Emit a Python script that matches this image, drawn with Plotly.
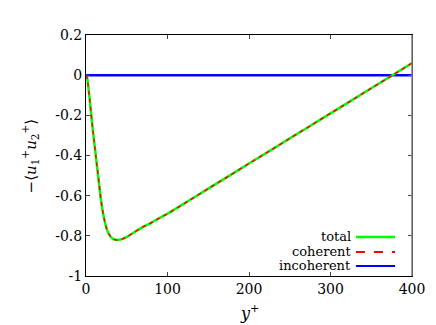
import plotly.graph_objects as go

y_plus = [0, 1, 2, 4, 6, 8, 10, 12, 14, 16, 18, 20, 22, 25, 28, 32, 36, 40, 45, 50,
          60, 70, 80, 90, 100, 125, 150, 175, 200, 225, 250, 275, 300, 325, 350, 375, 400]
total = [0.0, -0.005, -0.03, -0.1, -0.18, -0.26, -0.33, -0.40, -0.47, -0.54, -0.61, -0.665,
         -0.71, -0.76, -0.79, -0.812, -0.82, -0.82, -0.815, -0.805, -0.78, -0.755, -0.735,
         -0.712, -0.69, -0.628, -0.565, -0.503, -0.44, -0.378, -0.315, -0.253, -0.19,
         -0.128, -0.065, -0.003, 0.06]
coherent = [0.0, -0.005, -0.03, -0.1, -0.18, -0.26, -0.33, -0.40, -0.47, -0.54, -0.61, -0.665,
            -0.71, -0.76, -0.79, -0.812, -0.82, -0.82, -0.815, -0.805, -0.78, -0.755, -0.735,
            -0.712, -0.69, -0.628, -0.565, -0.503, -0.44, -0.378, -0.315, -0.253, -0.19,
            -0.128, -0.065, -0.003, 0.06]
incoherent = [0.0] * len(y_plus)

series_names = ["total", "coherent", "incoherent"]
x_ticks = [0, 100, 200, 300, 400]
y_ticks = [0.2, 0, -0.2, -0.4, -0.6, -0.8, -1]
y_tick_text = ["0.2", "0", "-0.2", "-0.4", "-0.6", "-0.8", "-1"]

FONT = "DejaVu Serif"

fig = go.Figure()
fig.add_trace(go.Scatter(x=y_plus, y=incoherent, mode="lines", name="incoherent",
                         line=dict(color="#0000ff", width=2.5)))
fig.add_trace(go.Scatter(x=y_plus, y=total, mode="lines", name="total",
                         line=dict(color="#00ff00", width=2.5, shape="spline", smoothing=0.6)))
fig.add_trace(go.Scatter(x=y_plus, y=coherent, mode="lines", name="coherent",
                         line=dict(color="#ff0000", width=1.5, dash="4px,4px", shape="spline", smoothing=0.6)))

fig.update_layout(
    width=436, height=325,
    margin=dict(l=78, r=32, t=27, b=57),
    paper_bgcolor="white", plot_bgcolor="white",
    showlegend=False,
    font=dict(family=FONT, size=14, color="black"),
    xaxis=dict(range=[0, 400], tickvals=x_ticks, ticks="inside", ticklen=4,
               showgrid=False, zeroline=False, showline=True, linecolor="black",
               linewidth=1, mirror="ticks", tickfont=dict(family=FONT, size=14)),
    yaxis=dict(range=[-1, 0.2], tickvals=y_ticks, ticktext=y_tick_text, ticks="inside",
               ticklen=4, showgrid=False, zeroline=False, showline=True, linecolor="black",
               linewidth=1, mirror="ticks", tickfont=dict(family=FONT, size=14)),
)

# right frame in grey, as in the reference
fig.add_shape(type="line", xref="paper", yref="paper", x0=1, x1=1, y0=0, y1=1,
              line=dict(color="#808080", width=1.5))

# axis titles
fig.add_annotation(text="<i>y</i><sup>+</sup>", xref="paper", yref="paper", x=0.5, y=-0.15,
                   xanchor="center", yanchor="middle", showarrow=False,
                   font=dict(family=FONT, size=16))
fig.add_annotation(text="−⟨<i>u</i><sub>1</sub><sup>+</sup><i>u</i><sub>2</sub><sup>+</sup>⟩",
                   xref="paper", yref="paper", x=-0.172, y=0.5, textangle=-90,
                   xanchor="center", yanchor="middle",
                   showarrow=False, font=dict(family=FONT, size=15))

# gnuplot-style legend: text right-aligned, sample line to the right
legend_styles = {"total": dict(color="#00ff00", width=2.5, dash="solid"),
                 "coherent": dict(color="#ff0000", width=2, dash="dash"),
                 "incoherent": dict(color="#0000ff", width=2, dash="solid")}
row_y = [0.162, 0.0996, 0.0415]
for name, ry in zip(series_names, row_y):
    fig.add_annotation(text=name, xref="paper", yref="paper", x=0.818, y=ry,
                       xanchor="right", yanchor="middle", showarrow=False,
                       font=dict(family=FONT, size=13))
    fig.add_shape(type="line", xref="paper", yref="paper", x0=0.828, x1=0.948, y0=ry, y1=ry,
                  line=legend_styles[name])

fig.write_html("out.html")
